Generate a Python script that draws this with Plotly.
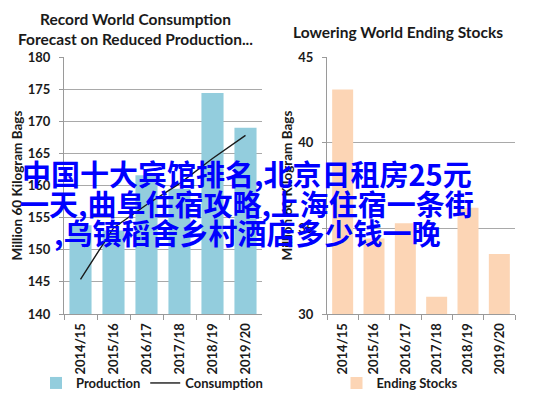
import plotly.graph_objects as go

# ---- data ----
seasons = ["2014/15", "2015/16", "2016/17", "2017/18", "2018/19", "2019/20"]
production = [153.8, 153.0, 161.6, 159.5, 174.4, 169.0]
consumption = [145.4, 153.4, 157.0, 160.3, 164.2, 167.8]
ending_stocks = [43.1, 34.4, 35.3, 31.0, 36.2, 33.5]

left_title = "Record World Consumption<br>Forecast on Reduced Production..."
right_title = "Lowering World Ending Stocks"
y_title = "Million 60 Kilogram Bags"
overlay_lines = ["中国十大宾馆排名,北京日租房25元",
                 "一天,曲阜住宿攻略,上海住宿一条街",
                 ",乌镇稻舍乡村酒店多少钱一晚"]

OFF = 8  # page body margin
W, H = 537 - OFF, 399 - OFF
FONT = "Lato"
GRID = "#a9a9a9"
AXIS = "#9a9a9a"
TXT = "#1a1a1a"

def px_x(p):
    return (p - OFF) / W

def px_y(p):
    return 1 - (p - OFF) / H

fig = go.Figure()
fig.add_trace(go.Bar(x=seasons, y=production, name="Production",
                     marker=dict(color="#93cddd", line=dict(width=0)),
                     xaxis="x", yaxis="y", legend="legend"))
fig.add_trace(go.Scatter(x=seasons, y=consumption, name="Consumption", mode="lines",
                         line=dict(color="#1a1a1a", width=1.4),
                         xaxis="x", yaxis="y", legend="legend"))
fig.add_trace(go.Bar(x=seasons, y=ending_stocks, name="Ending Stocks",
                     marker=dict(color="#fcd5b5", line=dict(width=0)),
                     xaxis="x2", yaxis="y2", legend="legend2"))

xaxis_common = dict(type="category", showgrid=False, showline=True, linecolor=AXIS,
                    linewidth=1, ticks="outside", tickson="boundaries", ticklen=5,
                    tickcolor=AXIS, tickangle=-90, automargin=False, ticklabelstandoff=3,
                    tickfont=dict(family=FONT, size=13, color=TXT, weight="bold"))
yaxis_common = dict(showgrid=True, gridcolor=GRID, gridwidth=1, showline=True,
                    linecolor=AXIS, linewidth=1, ticks="outside", ticklen=4,
                    tickcolor=AXIS, dtick=5, zeroline=False, ticklabelstandoff=6,
                    automargin=False,
                    tickfont=dict(family=FONT, size=13, color=TXT, weight="bold"),
                    title=dict(text=y_title, standoff=2,
                               font=dict(family=FONT, size=13.5, color=TXT, weight="bold")))

fig.update_layout(
    width=W, height=H, margin=dict(l=0, r=0, t=0, b=0, autoexpand=False),
    paper_bgcolor="white", plot_bgcolor="white",
    bargap=0.33,
    xaxis=dict(domain=[px_x(64), px_x(262)], anchor="y", **xaxis_common),
    yaxis=dict(domain=[px_y(314), px_y(57)], anchor="x", range=[140, 180], **yaxis_common),
    xaxis2=dict(domain=[px_x(327), px_x(515)], anchor="y2", **xaxis_common),
    yaxis2=dict(domain=[px_y(314), px_y(57)], anchor="x2", range=[30, 45], **yaxis_common),
    legend=dict(orientation="h", x=px_x(152), xanchor="center", y=px_y(383), yanchor="middle",
                font=dict(family=FONT, size=13, color=TXT, weight="bold"),
                bgcolor="rgba(0,0,0,0)", itemwidth=30, tracegroupgap=0),
    legend2=dict(orientation="h", x=px_x(400), xanchor="center", y=px_y(383), yanchor="middle",
                 font=dict(family=FONT, size=13, color=TXT, weight="bold"),
                 bgcolor="rgba(0,0,0,0)", itemwidth=30),
    showlegend=True,
)

fig.add_annotation(text=left_title, xref="paper", yref="paper", x=px_x(135), y=px_y(29),
                   xanchor="center", yanchor="middle", showarrow=False, align="center",
                   font=dict(family=FONT, size=15.5, color=TXT, weight="bold"))
fig.add_annotation(text=right_title, xref="paper", yref="paper", x=px_x(398), y=px_y(32),
                   xanchor="center", yanchor="middle", showarrow=False,
                   font=dict(family=FONT, size=15.5, color=TXT, weight="bold"))
overlay_y = [173, 203, 232]
for line, yy in zip(overlay_lines, overlay_y):
    fig.add_annotation(text="<b>" + line + "</b>", xref="paper", yref="paper",
                       x=px_x(247), y=px_y(yy),
                       xanchor="center", yanchor="middle", showarrow=False,
                       font=dict(family="Noto Sans CJK SC", size=29, color="#0000ff",
                                 weight="bold"))

fig.write_html("out.html")
